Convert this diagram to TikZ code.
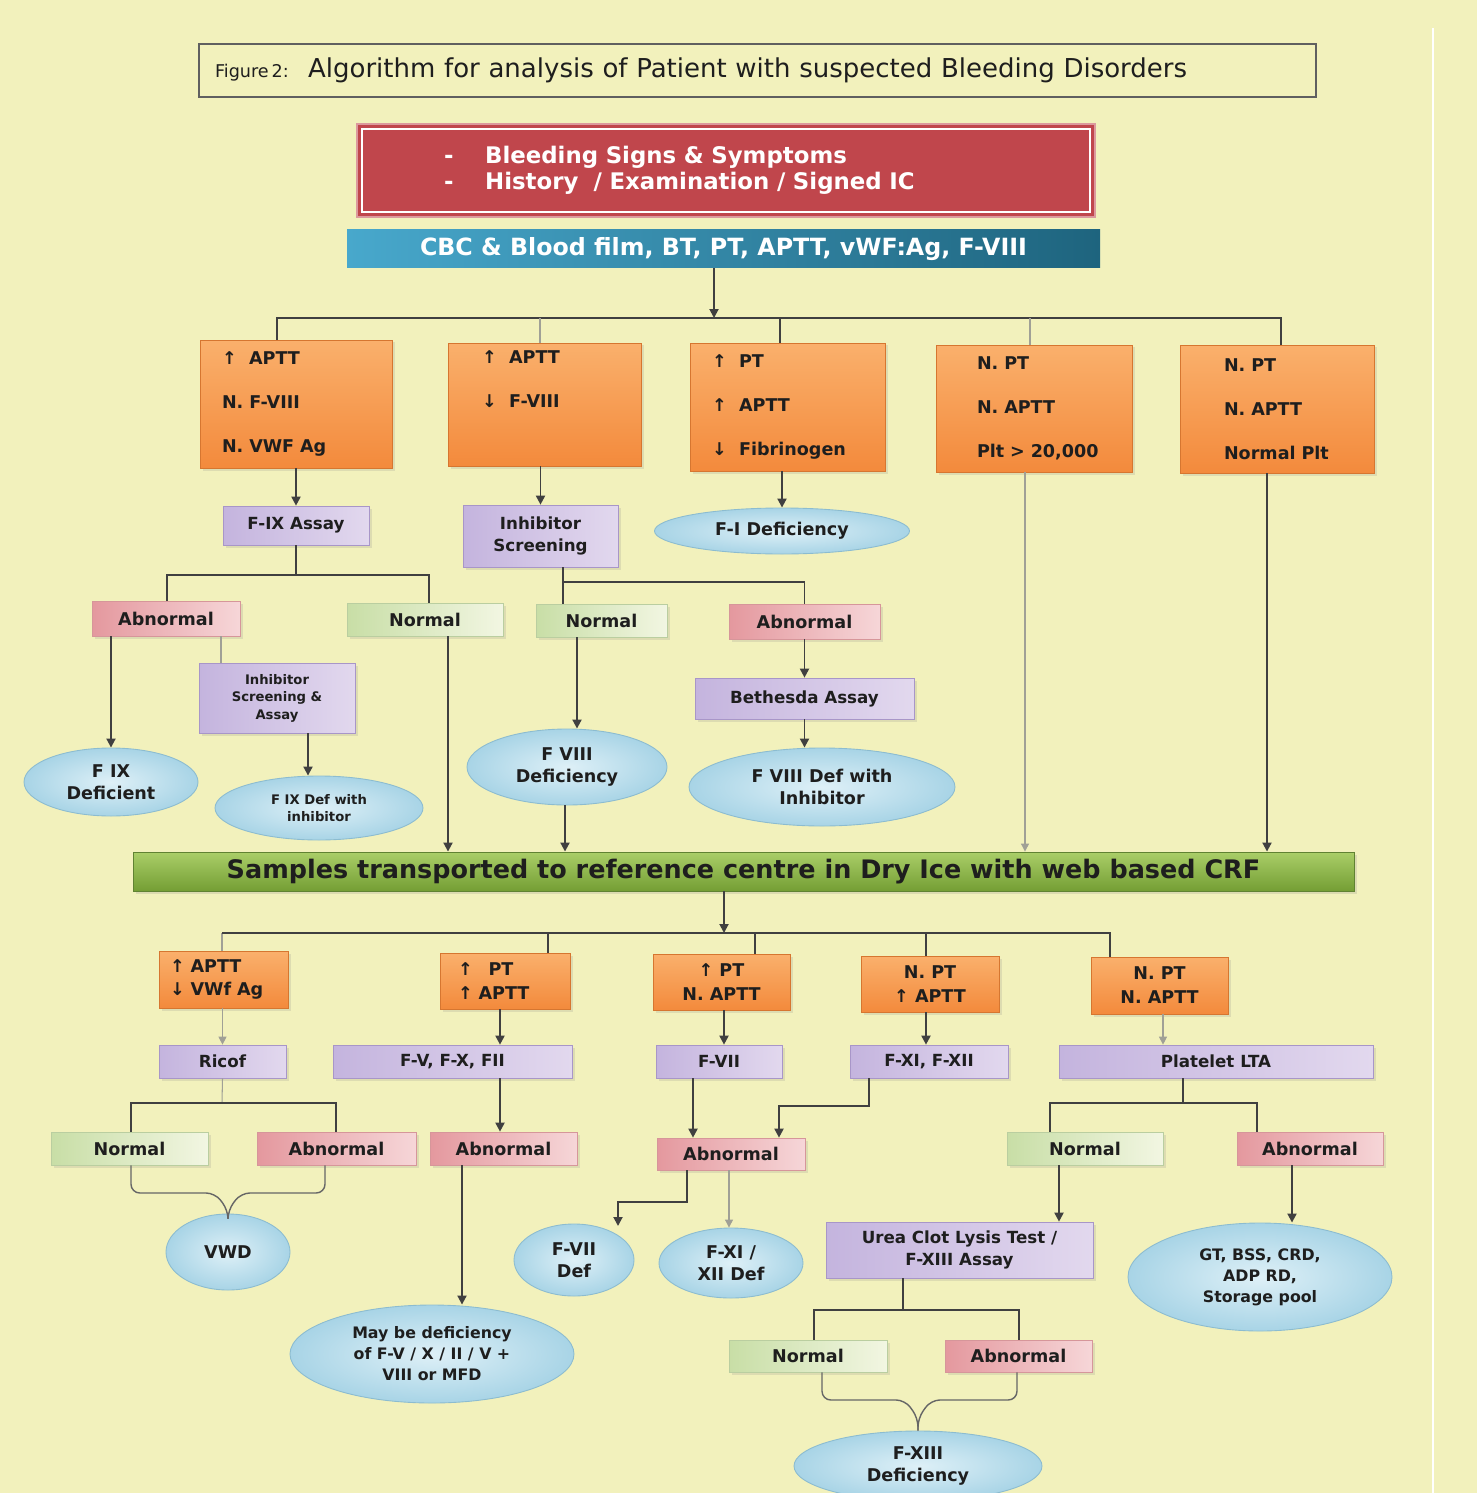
\documentclass[tikz,border=0pt]{standalone}
\usepackage{fontspec}
\setmainfont{DejaVu Sans}
\usepackage{xcolor}
\definecolor{fondJaune}{RGB}{242,241,188}
\definecolor{texteFonce}{RGB}{30,30,30}
\definecolor{orangeHaut}{RGB}{250,176,108}
\definecolor{orangeBas}{RGB}{243,138,60}
\definecolor{orangeBord}{RGB}{214,118,48}
\definecolor{violetFonce}{RGB}{196,180,222}
\definecolor{violetClair}{RGB}{226,216,238}
\definecolor{violetBord}{RGB}{168,150,200}
\definecolor{roseFonce}{RGB}{228,152,158}
\definecolor{roseClair}{RGB}{246,214,216}
\definecolor{roseBord}{RGB}{214,150,154}
\definecolor{vertFonce}{RGB}{200,222,166}
\definecolor{vertClair}{RGB}{242,246,226}
\definecolor{vertBord}{RGB}{186,206,160}
\definecolor{bulleClair}{RGB}{222,240,247}
\definecolor{bulleFonce}{RGB}{168,212,230}
\definecolor{bulleBord}{RGB}{140,188,208}
\definecolor{rougeBloc}{RGB}{192,70,76}
\definecolor{bleuClair}{RGB}{72,168,204}
\definecolor{bleuFonce}{RGB}{30,100,126}
\definecolor{vertHaut}{RGB}{170,206,104}
\definecolor{vertBas}{RGB}{116,158,52}
\definecolor{vertBandeauBord}{RGB}{96,130,50}
\definecolor{traitGris}{RGB}{64,64,64}
\definecolor{traitPale}{RGB}{160,160,150}
\usepackage{tikz}
\usetikzlibrary{arrows.meta, positioning, calc, shapes.geometric, shadows}
\newcommand{\Hausse}{↑}
\newcommand{\Baisse}{↓}
\tikzset{
  %% ── Blocs ─────────────────────────────────────────────────────────────
  %% Les tailles sont donnees en pixels de l'original (1 px = 0,02 cm).
  taille/.style 2 args = {minimum width=#1*0.02cm, minimum height=#2*0.02cm},
  bloc/.style        = {rectangle, inner sep=2pt, text=texteFonce, align=center,
                        font=\bfseries\fontsize{10}{12}\selectfont,
                        drop shadow={opacity=0.18, shadow xshift=0.5mm,
                                     shadow yshift=-0.5mm}},
  blocOrange/.style  = {bloc, top color=orangeHaut, bottom color=orangeBas,
                        draw=orangeBord, line width=0.4pt},
  blocOrangeBas/.style = {blocOrange, font=\bfseries\fontsize{10}{13.6}\selectfont},
  blocViolet/.style  = {bloc, left color=violetFonce, right color=violetClair,
                        draw=violetBord, line width=0.4pt,
                        font=\bfseries\fontsize{9.5}{12.5}\selectfont},
  blocRose/.style    = {bloc, left color=roseFonce, right color=roseClair,
                        draw=roseBord, line width=0.4pt},
  blocVert/.style    = {bloc, left color=vertFonce, right color=vertClair,
                        draw=vertBord, line width=0.4pt},
  bulle/.style       = {ellipse, inner sep=0pt, inner color=bulleClair,
                        outer color=bulleFonce, draw=bulleBord, line width=0.5pt,
                        align=center, text=texteFonce,
                        font=\bfseries\fontsize{10}{12.5}\selectfont},
  blocRouge/.style   = {rectangle, fill=rougeBloc, draw=rougeBloc!55!white,
                        line width=0.8pt, text=white, align=left,
                        font=\bfseries\fontsize{13}{14.8}\selectfont},
  bandeauBleu/.style = {rectangle, inner sep=0pt, left color=bleuClair,
                        right color=bleuFonce, text=white,
                        font=\bfseries\fontsize{13.5}{16}\selectfont},
  bandeauVert/.style = {rectangle, inner sep=0pt, top color=vertHaut,
                        bottom color=vertBas, draw=vertBandeauBord, line width=0.5pt,
                        text=texteFonce, font=\bfseries\fontsize{14.5}{16}\selectfont,
                        drop shadow={opacity=0.2, shadow xshift=0.5mm,
                                     shadow yshift=-0.5mm}},
  cadreTitre/.style  = {rectangle, draw=gray!75!black, line width=0.8pt,
                        align=left, text=texteFonce, font=\fontsize{14.8}{16}\selectfont},
  %%
  %% ── Traits ────────────────────────────────────────────────────────────
  trait/.style       = {draw=traitGris, line width=1.1pt},
  traitPale/.style   = {draw=traitPale, line width=0.6pt},
  accolade/.style    = {draw=traitGris!80, line width=0.8pt, rounded corners=5pt},
  fleche/.style      = {trait, -{Triangle[length=1.8mm, width=1.8mm]}},
  flechePale/.style  = {traitPale, -{Triangle[length=1.6mm, width=1.6mm]}},
}

\begin{document}
\begin{tikzpicture}[x=0.02cm, y=-0.02cm]

%% Fond : la page garde les proportions de l'original.
\fill[fondJaune] (0,0) rectangle (1477,1493);
\useasboundingbox (0,0) rectangle (1477,1493);
\draw[white, line width=1.2pt] (1433,28) -- (1433,1493);

%% Titre, bilan clinique et bilan de premiere ligne.
\node[cadreTitre, taille={1117}{53}, text width=21.7cm, inner xsep=0.32cm] (titre) at (757.5,70.5)
  {{\fontsize{10}{11}\selectfont Figure\,2:}\hspace{11pt}Algorithm for analysis of Patient with suspected Bleeding Disorders};
\node[blocRouge, taille={738}{93}, text width=11.28cm, inner xsep=1.74cm] (rouge) at (726,170.5)
  {-\hspace{18pt}Bleeding Signs \& Symptoms\\ -\hspace{18pt}History\ \ / Examination / Signed IC};
\draw[white, line width=1pt] ($(rouge.north west)+(6,6)$) rectangle ($(rouge.south east)+(-6,-6)$);
\node[bandeauBleu, taille={753}{38}] (bleu) at (723.5,249)
  {CBC \& Blood film, BT, PT, APTT, vWF:Ag, F-VIII};

%% Les cinq profils de premiere ligne.
\node[blocOrange, taille={192}{128}, text width=2.96cm, inner xsep=0.44cm, align=left] (o1) at (296,404)
  {\Hausse\hspace{7pt}APTT\\[13pt]N.~F-VIII\\[13pt]N.~VWF~Ag};
\node[blocOrange, taille={193}{123}, text width=2.5cm, inner xsep=0.68cm, align=left] (o2) at (544.5,404.5)
  {\Hausse\hspace{7pt}APTT\\[13pt]\Baisse\hspace{7pt}F-VIII\\[13pt]\strut};
\node[blocOrange, taille={195}{128}, text width=3.02cm, inner xsep=0.44cm, align=left] (o3) at (787.5,407)
  {\Hausse\hspace{7pt}PT\\[13pt]\Hausse\hspace{7pt}APTT\\[13pt]\Baisse\hspace{7pt}Fibrinogen};
\node[blocOrange, taille={196}{127}, text width=2.28cm, inner xsep=0.82cm, align=left] (o4) at (1034,408.5)
  {N.~PT\\[13pt]N.~APTT\\[13pt]Plt~>~20,000};
\node[blocOrange, taille={194}{128}, text width=2.12cm, inner xsep=0.88cm, align=left] (o5) at (1277,409)
  {N.~PT\\[13pt]N.~APTT\\[13pt]Normal~Plt};

%% Branches hemophilie et fibrinogene.
\node[blocViolet, taille={146}{39}] (fix) at (296,525.5) {F-IX Assay};
\node[blocViolet, taille={155}{62}] (inh) at (540.5,536) {Inhibitor\\Screening};
\node[bulle, taille={255}{46}] (f1) at (782,531) {F-I Deficiency};
\node[blocRose, taille={148}{35}] (ab1) at (166,618.5) {Abnormal};
\node[blocVert, taille={156}{33}] (no1) at (425,619.5) {Normal};
\node[blocVert, taille={131}{33}] (no2) at (601.5,620.5) {Normal};
\node[blocRose, taille={151}{35}] (ab2) at (804.5,621.5) {Abnormal};
\node[blocViolet, taille={156}{70}, font=\bfseries\fontsize{7.5}{10}\selectfont] (inh2) at (277,698)
  {Inhibitor\\Screening \&\\Assay};
\node[blocViolet, taille={219}{41}] (beth) at (804.5,698.5) {Bethesda Assay};
\node[bulle, taille={174}{68}] (f9) at (111,782) {F IX\\Deficient};
\node[bulle, taille={208}{64}, font=\bfseries\fontsize{7.5}{10}\selectfont] (f9i) at (319,808)
  {F IX Def with\\inhibitor};
\node[bulle, taille={200}{76}] (f8) at (567,767) {F VIII\\Deficiency};
\node[bulle, taille={266}{78}] (f8i) at (822,787) {F VIII Def with\\Inhibitor};

%% Envoi au centre de reference.
\node[bandeauVert, taille={1221}{39}] (echant) at (743.5,871.5)
  {Samples transported to reference centre in Dry Ice with web based CRF};

%% Les cinq profils au centre de reference.
\node[blocOrangeBas, taille={129}{57}, text width=2.14cm, inner xsep=0.22cm, align=left] (oa) at (223.5,979.5)
  {\Hausse~APTT\\\Baisse~VWf~Ag};
\node[blocOrangeBas, taille={130}{56}, text width=1.88cm, inner xsep=0.36cm, align=left] (ob) at (505,981)
  {\Hausse\hspace{9pt}PT\\\Hausse~APTT};
\node[blocOrangeBas, taille={137}{56}] (oc) at (721.5,982) {\Hausse~PT\\N.~APTT};
\node[blocOrangeBas, taille={138}{56}] (od) at (930,984) {N.~PT\\\Hausse~APTT};
\node[blocOrangeBas, taille={137}{57}] (oe) at (1159.5,985.5) {N.~PT\\N.~APTT};

\node[blocViolet, taille={127}{33}] (ric) at (222.5,1061.5) {Ricof};
\node[blocViolet, taille={239}{33}] (fvx) at (452.5,1061.5) {F-V, F-X, FII};
\node[blocViolet, taille={126}{33}] (f7) at (719,1061.5) {F-VII};
\node[blocViolet, taille={158}{33}] (f11) at (929,1061.5) {F-XI, F-XII};
\node[blocViolet, taille={314}{33}] (plt) at (1216,1061.5) {Platelet LTA};

\node[blocVert, taille={157}{33}] (no3) at (129.5,1148.5) {Normal};
\node[blocRose, taille={159}{33}] (ab3) at (336.5,1148.5) {Abnormal};
\node[blocRose, taille={147}{33}] (ab4) at (503.5,1148.5) {Abnormal};
\node[blocRose, taille={148}{32}] (ab5) at (731,1154) {Abnormal};
\node[blocVert, taille={156}{33}] (no6) at (1085,1148.5) {Normal};
\node[blocRose, taille={146}{33}] (ab6) at (1310,1148.5) {Abnormal};

\node[bulle, taille={124}{76}] (vwd) at (228,1252) {VWD};
\node[bulle, taille={284}{98}, font=\bfseries\fontsize{9}{12}\selectfont] (mfd) at (432,1354)
  {May be deficiency\\of F-V / X / II / V +\\VIII or MFD};
\node[bulle, taille={120}{72}] (f7d) at (574,1260) {F-VII\\Def};
\node[bulle, taille={144}{70}] (f11d) at (731,1263) {F-XI /\\XII Def};
\node[blocViolet, taille={267}{56}] (urea) at (959.5,1250) {Urea Clot Lysis Test /\\F-XIII Assay};
\node[bulle, taille={264}{108}, font=\bfseries\fontsize{9}{12}\selectfont] (gt) at (1260,1277)
  {GT, BSS, CRD,\\ADP RD,\\Storage pool};
\node[blocVert, taille={158}{32}] (no7) at (808,1356) {Normal};
\node[blocRose, taille={147}{32}] (ab7) at (1018.5,1356) {Abnormal};
\node[bulle, taille={248}{70}] (f13) at (918,1466) {F-XIII\\Deficiency};

%% Liaisons, haut.
\coordinate (bus1) at (714,318);
\draw[fleche] (bleu.south -| bus1) -- (bus1);
\draw[trait] (o1.north -| 277,0) |- (bus1) -| (o5.north -| 1281,0);
\draw[traitPale] (540,318) -- (o2.north -| 540,0);
\draw[trait] (780,318) -- (o3.north -| 780,0);
\draw[traitPale] (1030,318) -- (o4.north -| 1030,0);

\draw[fleche] (o1.south -| fix.north) -- (fix.north);
\draw[fleche] (o2.south -| inh.north) -- (inh.north);
\draw[fleche] (o3.south -| f1.north) -- (f1.north);

\draw[trait] (fix.south) -- ++(0,30);
\draw[trait] (ab1.north -| 167,0) |- ($(fix.south)+(0,30)$) -| (no1.north -| 429,0);
\draw[trait] (inh.south -| 563,0) -- (no2.north -| 563,0);
\draw[trait] (563,582) -| (ab2.north);

\draw[fleche] (ab1.south -| f9.north) -- (f9.north);
\draw[traitPale] (ab1.south -| 221,0) -- (inh2.north -| 221,0);
\draw[fleche] (inh2.south -| 308,0) -- (f9i.north -| 308,0);
\draw[fleche] (no2.south -| 577,0) -- (f8.north -| 577,0);
\draw[fleche] (ab2.south) -- (beth.north);
\draw[fleche] (beth.south) -- (f8i.north -| beth.south);

\draw[fleche] (no1.south -| 448,0) -- (echant.north -| 448,0);
\draw[fleche] (f8.south -| 565,0) -- (echant.north -| 565,0);
\draw[flechePale] (o4.south -| 1025,0) -- (echant.north -| 1025,0);
\draw[fleche] (o5.south -| 1267,0) -- (echant.north -| 1267,0);

%% Liaisons, bas.
\coordinate (bus2) at (724,933);
\draw[fleche] (echant.south -| bus2) -- (bus2);
\draw[traitPale] (oa.north -| 222,0) -- (222,933);
\draw[trait] (222,933) -- (1110,933) -- (oe.north -| 1110,0);
\draw[trait] (548,933) -- (ob.north -| 548,0);
\draw[trait] (755,933) -- (oc.north -| 755,0);
\draw[trait] (926,933) -- (od.north -| 926,0);

\draw[flechePale] (oa.south -| ric.north) -- (ric.north);
\draw[fleche] (ob.south -| 500,0) -- (fvx.north -| 500,0);
\draw[fleche] (oc.south -| 724,0) -- (f7.north -| 724,0);
\draw[fleche] (od.south -| 926,0) -- (f11.north -| 926,0);
\draw[flechePale] (oe.south -| 1163,0) -- (plt.north -| 1163,0);

%% Facteur Willebrand.
\draw[traitPale] (ric.south) -- (222,1103);
\draw[trait] (no3.north -| 131,0) |- (222,1103) -| (ab3.north -| 336,0);
\draw[accolade] (no3.south -| 131,0) -- (131,1193) -- (215,1193) -- (228,1210) -- (vwd.north);
\draw[accolade] (ab3.south -| 325,0) -- (325,1193) -- (241,1193) -- (228,1210) -- (vwd.north);

%% Voies commune, extrinseque et intrinseque.
\draw[fleche] (fvx.south -| 500,0) -- (ab4.north -| 500,0);
\draw[fleche] (ab4.south -| 462,0) -- (mfd.north -| 462,0);
\draw[fleche] (f7.south -| 693,0) -- (ab5.north -| 693,0);
\draw[fleche] (f11.south -| 869,0) |- (779,1106) -- (ab5.north -| 779,0);
\draw[fleche] (ab5.south -| 687,0) |- (618,1202) -- (618,1226);
\draw[flechePale] (ab5.south -| 729,0) -- (f11d.north -| 729,0);

%% Plaquettes et facteur XIII.
\draw[trait] (plt.south -| 1183,0) -- (1183,1103);
\draw[trait] (no6.north -| 1050,0) |- (1183,1103) -| (ab6.north -| 1257,0);
\draw[fleche] (no6.south -| 1059,0) -- (urea.north -| 1059,0);
\draw[fleche] (ab6.south -| 1292,0) -- (gt.north -| 1292,0);
\draw[trait] (urea.south -| 903,0) -- (903,1310);
\draw[trait] (no7.north -| 814,0) |- (903,1310) -| (ab7.north -| 1019,0);
\draw[accolade] (no7.south -| 822,0) -- (822,1400) -- (905,1400) -- (918,1418) -- (f13.north);
\draw[accolade] (ab7.south -| 1017,0) -- (1017,1400) -- (931,1400) -- (918,1418) -- (f13.north);

\end{tikzpicture}
\end{document}
